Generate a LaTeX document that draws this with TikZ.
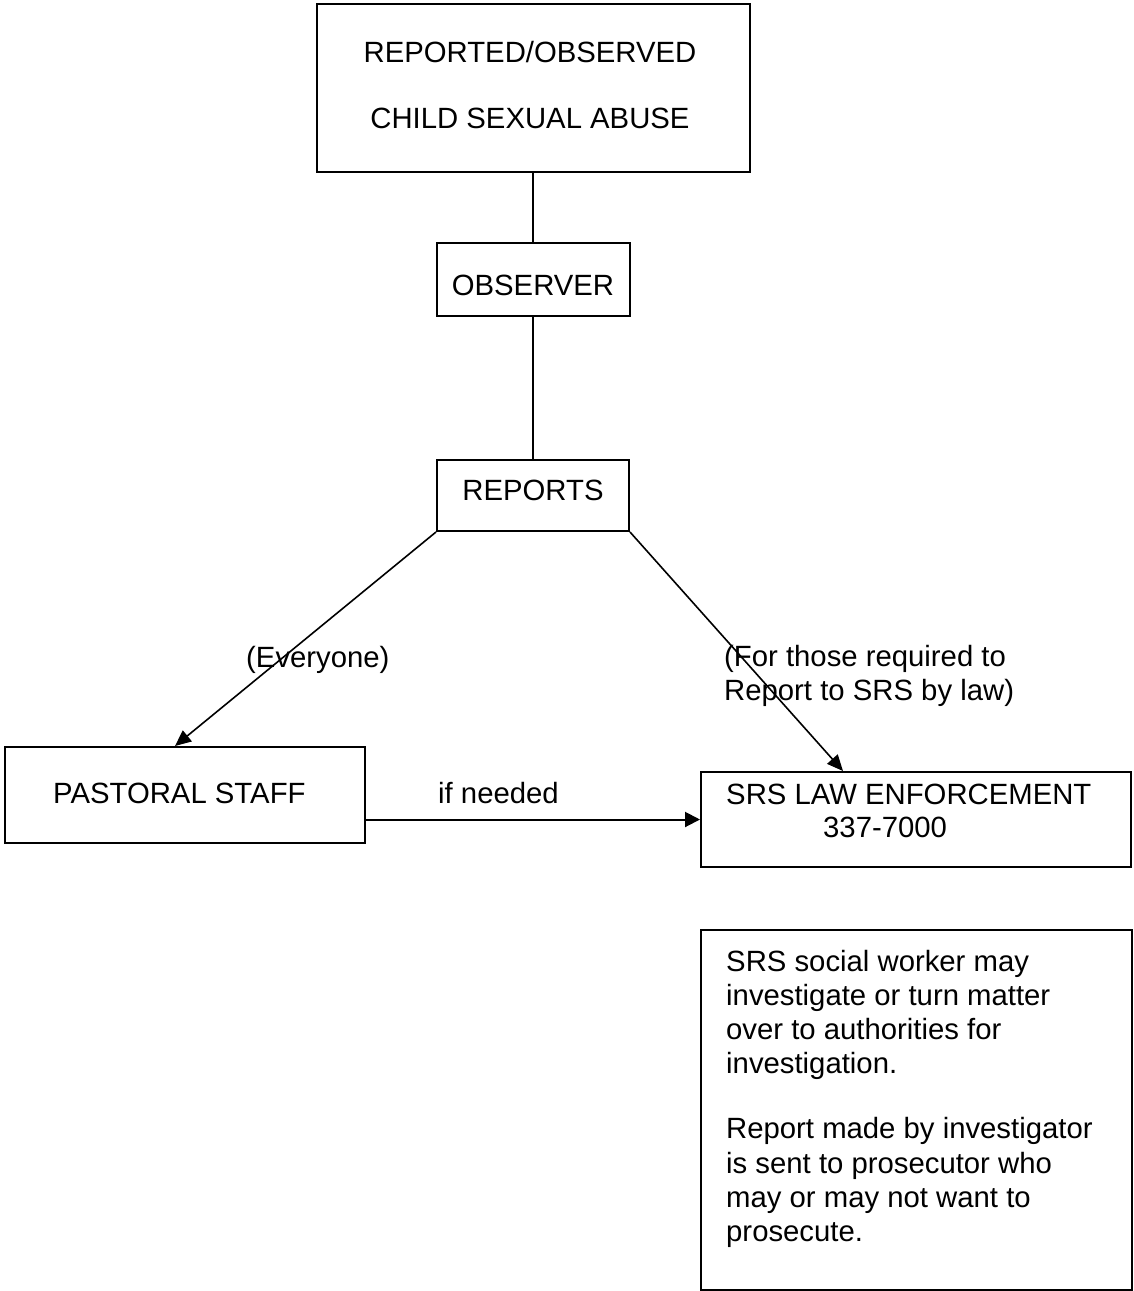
\documentclass[tikz,border=0pt]{standalone}
\usepackage{fontspec}
\setmainfont{Liberation Sans}
\usetikzlibrary{arrows.meta}
\begin{document}
\begin{tikzpicture}[x=1pt,y=-1pt,
  every node/.style={font=\fontsize{29.3}{34.3}\selectfont, inner sep=0pt},
  box/.style={draw, line width=2pt, rectangle},
  txt/.style={anchor=base west},
  ctxt/.style={anchor=base},
  conn/.style={line width=2pt},
  arr/.style={line width=1.6pt, -{Triangle[length=16pt,width=14pt]}},
  harr/.style={line width=2pt, -{Triangle[length=15pt,width=15pt]}}]
\useasboundingbox (0,0) rectangle (1133,1291);
% boxes
\node[box, minimum width=433pt, minimum height=168pt] (top) at (533.5,88) {};
\node[box, minimum width=193pt, minimum height=73pt] (obs) at (533,279.5) {};
\node[box, minimum width=192pt, minimum height=71pt] (rep) at (533,495.5) {};
\node[box, minimum width=360pt, minimum height=96pt] (past) at (185,795) {};
\node[box, minimum width=430pt, minimum height=95pt] (srs) at (916,819.5) {};
\node[box, minimum width=431pt, minimum height=360pt] (info) at (916.5,1110) {};
% texts
\node[ctxt] (ttop) at (530,62) {\begin{tabular}[t]{@{}c@{}}REPORTED/OBSERVED\\[31.7pt]CHILD SEXUAL ABUSE\end{tabular}};
\node[ctxt] (tobs) at (533,295) {OBSERVER};
\node[ctxt] (trep) at (533,500) {REPORTS};
\node[txt] (tevery) at (246,667) {(Everyone)};
\node[txt] (tlaw) at (724,666) {\begin{tabular}[t]{@{}l@{}}(For those required to\\Report to SRS by law)\end{tabular}};
\node[txt] (tpast) at (53,803) {PASTORAL STAFF};
\node[txt] (tneed) at (438,803) {if needed};
\node[txt] (tsrs1) at (726,804) {SRS LAW ENFORCEMENT};
\node[txt] (tsrs2) at (823,837) {337-7000};
\node[txt] (tinfo) at (726,971) {\begin{tabular}[t]{@{}l@{}}SRS social worker may\\investigate or turn matter\\over to authorities for\\investigation.\\[30.7pt]Report made by investigator\\is sent to prosecutor who\\may or may not want to\\prosecute.\end{tabular}};
% connectors
\draw[conn] (obs.north |- top.south) -- (obs.north);
\draw[conn] (obs.south) -- (rep.north);
\draw[arr] (rep.south west) -- ([xshift=-10pt]past.north);
\draw[arr] (rep.south east) -- ([xshift=-73pt]srs.north);
\draw[harr] (srs.west -| past.east) -- (srs.west);
\end{tikzpicture}
\end{document}
